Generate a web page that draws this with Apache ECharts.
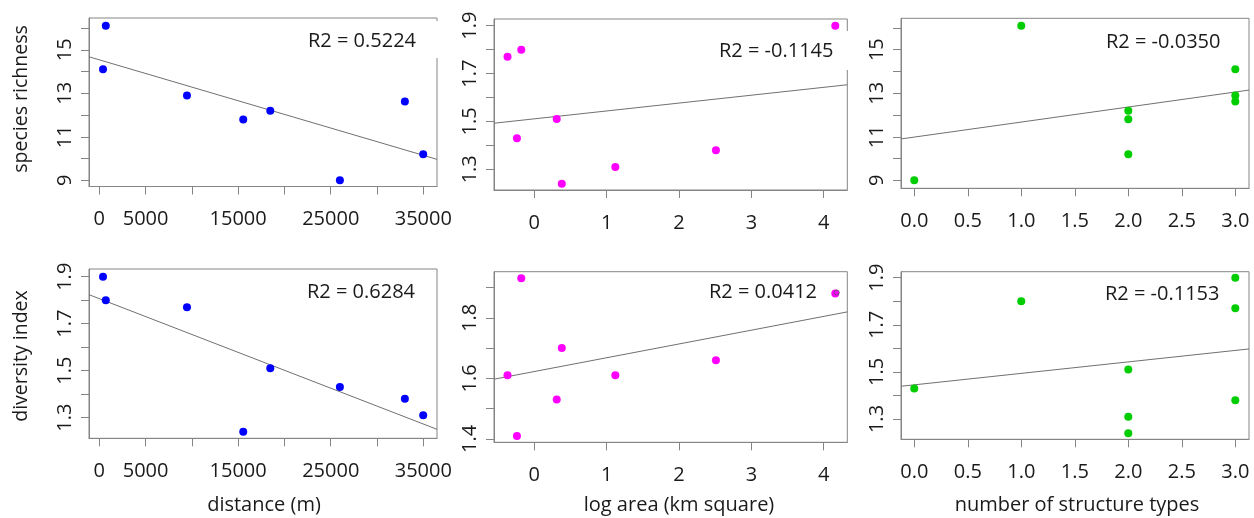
<!DOCTYPE html>
<html>
<head>
<meta charset="utf-8">
<script src="https://cdn.jsdelivr.net/npm/echarts@6/dist/echarts.min.js"></script>
<style>
  html, body { margin: 0; padding: 0; background: #ffffff; }
  #chart { width: 1254px; height: 518px; }
</style>
</head>
<body>
<div id="chart"></div>
<script>
// Site measurements (one entry per site)
const distance       = [400, 700, 9470, 15550, 18470, 25990, 33010, 34990];
const logArea        = [4.16, -0.18, -0.37, 0.38, 0.31, -0.24, 2.51, 1.12];
const structureTypes = [3, 1, 3, 2, 2, 0, 3, 2];
const richness       = [14.1, 16.1, 12.9, 11.8, 12.2, 9.0, 12.62, 10.2];
const diversity      = [1.90, 1.80, 1.77, 1.24, 1.51, 1.43, 1.38, 1.31];
const diversityArea  = [1.88, 1.93, 1.61, 1.70, 1.53, 1.41, 1.66, 1.61];

// Axis ticks and labelled values
const distTicks   = [0, 5000, 10000, 15000, 20000, 25000, 30000, 35000];
const distLabels  = [0, 5000, 15000, 25000, 35000];
const areaTicks   = [0, 1, 2, 3, 4];
const structTicks = [0, 0.5, 1, 1.5, 2, 2.5, 3];
const richTicks   = [9, 10, 11, 12, 13, 14, 15, 16];
const richLabels  = [9, 11, 13, 15];
const divTicks    = [1.3, 1.4, 1.5, 1.6, 1.7, 1.8, 1.9];
const divLabels   = [1.3, 1.5, 1.7, 1.9];
const divAreaTicks  = [1.4, 1.5, 1.6, 1.7, 1.8, 1.9];
const divAreaLabels = [1.4, 1.6, 1.8];

// Fit statistics printed in each panel
const r2Text = ['R2 = 0.5224', 'R2 = -0.1145', 'R2 = -0.0350',
                'R2 = 0.6284', 'R2 = 0.0412', 'R2 = -0.1153'];

const xTitles = ['distance (m)', 'log area (km square)', 'number of structure types'];
const yTitles = ['species richness', 'diversity index'];

const FONT = '"Open Sans", "Noto Sans", sans-serif';
const TEXT = '#1a1a1a';
const FRAME = '#858585';

const BLUE = '#0000FF', MAGENTA = '#FF00FF', GREEN = '#00CD00';

const panels = [
  { box: [89, 18, 348, 168.5],   x: distance, y: richness, color: BLUE,
    xr: [-1113, 36481], yr: [8.715, 16.46], xt: distTicks, xl: distLabels, xf: 0,
    yt: richTicks, yl: richLabels, yf: 0, r2: [308, 41] },
  { box: [494, 19, 353.3, 171],  x: logArea, y: diversity, color: MAGENTA,
    xr: [-0.557, 4.326], yr: [1.2135, 1.928], xt: areaTicks, xl: areaTicks, xf: 0,
    yt: divTicks, yl: divLabels, yf: 1, r2: [719, 51] },
  { box: [901, 18.3, 348, 170],  x: structureTypes, y: richness, color: GREEN,
    xr: [-0.124, 3.128], yr: [8.633, 16.44], xt: structTicks, xl: structTicks, xf: 1,
    yt: richTicks, yl: richLabels, yf: 0, r2: [1106, 42.5] },
  { box: [89, 269, 348, 169.3],  x: distance, y: diversity, color: BLUE,
    xr: [-1113, 36481], yr: [1.212, 1.933], xt: distTicks, xl: distLabels, xf: 0,
    yt: divTicks, yl: divLabels, yf: 1, r2: [307, 292.5] },
  { box: [494, 271.7, 353.3, 170.6], x: logArea, y: diversityArea, color: MAGENTA,
    xr: [-0.557, 4.326], yr: [1.389, 1.952], xt: areaTicks, xl: areaTicks, xf: 0,
    yt: divAreaTicks, yl: divAreaLabels, yf: 1, r2: [709, 292.5] },
  { box: [901, 271.7, 348, 167.6], x: structureTypes, y: diversity, color: GREEN,
    xr: [-0.124, 3.128], yr: [1.2138, 1.9255], xt: structTicks, xl: structTicks, xf: 1,
    yt: divTicks, yl: divLabels, yf: 1, r2: [1105, 294] }
];

// Ordinary least-squares fit of y on x
function olsFit(xs, ys) {
  const n = xs.length;
  const mx = xs.reduce((a, b) => a + b, 0) / n;
  const my = ys.reduce((a, b) => a + b, 0) / n;
  let sxy = 0, sxx = 0;
  for (let i = 0; i < n; i++) {
    sxy += (xs[i] - mx) * (ys[i] - my);
    sxx += (xs[i] - mx) * (xs[i] - mx);
  }
  const slope = sxy / sxx;
  return { slope, intercept: my - slope * mx };
}

const grid = [], xAxis = [], yAxis = [], series = [], graphic = [];

panels.forEach((p, i) => {
  grid.push({
    left: p.box[0], top: p.box[1], width: p.box[2], height: p.box[3],
    show: true, borderColor: FRAME, borderWidth: 1, backgroundColor: 'transparent',
    containLabel: false, outerBoundsMode: 'none'
  });
  xAxis.push({
    type: 'value', gridIndex: i, min: p.xr[0], max: p.xr[1],
    splitLine: { show: false },
    axisLine: { show: true, onZero: false, lineStyle: { color: FRAME } },
    axisTick: { show: true, inside: false, length: 8, customValues: p.xt, lineStyle: { color: FRAME } },
    axisLabel: {
      show: true, customValues: p.xl, margin: 23,
      formatter: v => Number(v).toFixed(p.xf),
      color: TEXT, fontFamily: FONT, fontSize: 20
    }
  });
  yAxis.push({
    type: 'value', gridIndex: i, min: p.yr[0], max: p.yr[1],
    splitLine: { show: false },
    axisLine: { show: true, onZero: false, lineStyle: { color: FRAME } },
    axisTick: { show: true, inside: false, length: 8, customValues: p.yt, lineStyle: { color: FRAME } },
    axisLabel: {
      show: true, customValues: p.yl, margin: 14, rotate: 90,
      formatter: v => Number(v).toFixed(p.yf),
      color: TEXT, fontFamily: FONT, fontSize: 20
    }
  });

  const fit = olsFit(p.x, p.y);
  series.push({
    type: 'line', xAxisIndex: i, yAxisIndex: i, silent: true,
    symbol: 'none', clip: true, z: 2,
    lineStyle: { color: '#707070', width: 1 },
    data: [[p.xr[0], fit.intercept + fit.slope * p.xr[0]],
           [p.xr[1], fit.intercept + fit.slope * p.xr[1]]]
  });
  series.push({
    type: 'scatter', xAxisIndex: i, yAxisIndex: i, silent: true,
    symbol: 'circle', symbolSize: 8, z: 3,
    itemStyle: { color: p.color, opacity: 1 },
    data: p.x.map((xv, k) => [xv, p.y[k]])
  });

  graphic.push({
    type: 'text', x: p.r2[0], y: p.r2[1], z: 10,
    style: { text: r2Text[i], fill: TEXT, font: '20px ' + FONT,
             align: 'left', verticalAlign: 'middle' }
  });
});

// Open ring drawn over the largest-area site in the lower middle panel
series.push({
  type: 'scatter', xAxisIndex: 4, yAxisIndex: 4, silent: true,
  symbol: 'circle', symbolSize: 5, symbolOffset: [1.5, -1], z: 4,
  itemStyle: { color: 'rgba(0,0,0,0)', borderColor: '#555555', borderWidth: 1 },
  data: [[logArea[0], diversityArea[0]]]
});

// White patches where the frame is interrupted beside the R2 notes
graphic.push({ type: 'rect', z: 5, shape: { x: 435, y: 21, width: 5, height: 37 },
               style: { fill: '#ffffff' } });
graphic.push({ type: 'rect', z: 5, shape: { x: 845.5, y: 31, width: 4, height: 39 },
               style: { fill: '#ffffff' } });

// Axis titles
const xTitlePos = [[264, 505], [679, 505], [1077, 505]];
xTitles.forEach((t, i) => {
  graphic.push({
    type: 'text', x: xTitlePos[i][0], y: xTitlePos[i][1], z: 10,
    style: { text: t, fill: TEXT, font: '20px ' + FONT, align: 'center', verticalAlign: 'middle' }
  });
});
const yTitlePos = [[21, 99], [21, 356]];
yTitles.forEach((t, i) => {
  graphic.push({
    type: 'text', x: yTitlePos[i][0], y: yTitlePos[i][1], rotation: Math.PI / 2, z: 10,
    style: { text: t, fill: TEXT, font: '19.5px ' + FONT, align: 'center', verticalAlign: 'middle' }
  });
});

const chart = echarts.init(document.getElementById('chart'), null, { renderer: 'canvas' });
chart.setOption({
  animation: false,
  backgroundColor: '#ffffff',
  grid, xAxis, yAxis, series, graphic
});
</script>
</body>
</html>
